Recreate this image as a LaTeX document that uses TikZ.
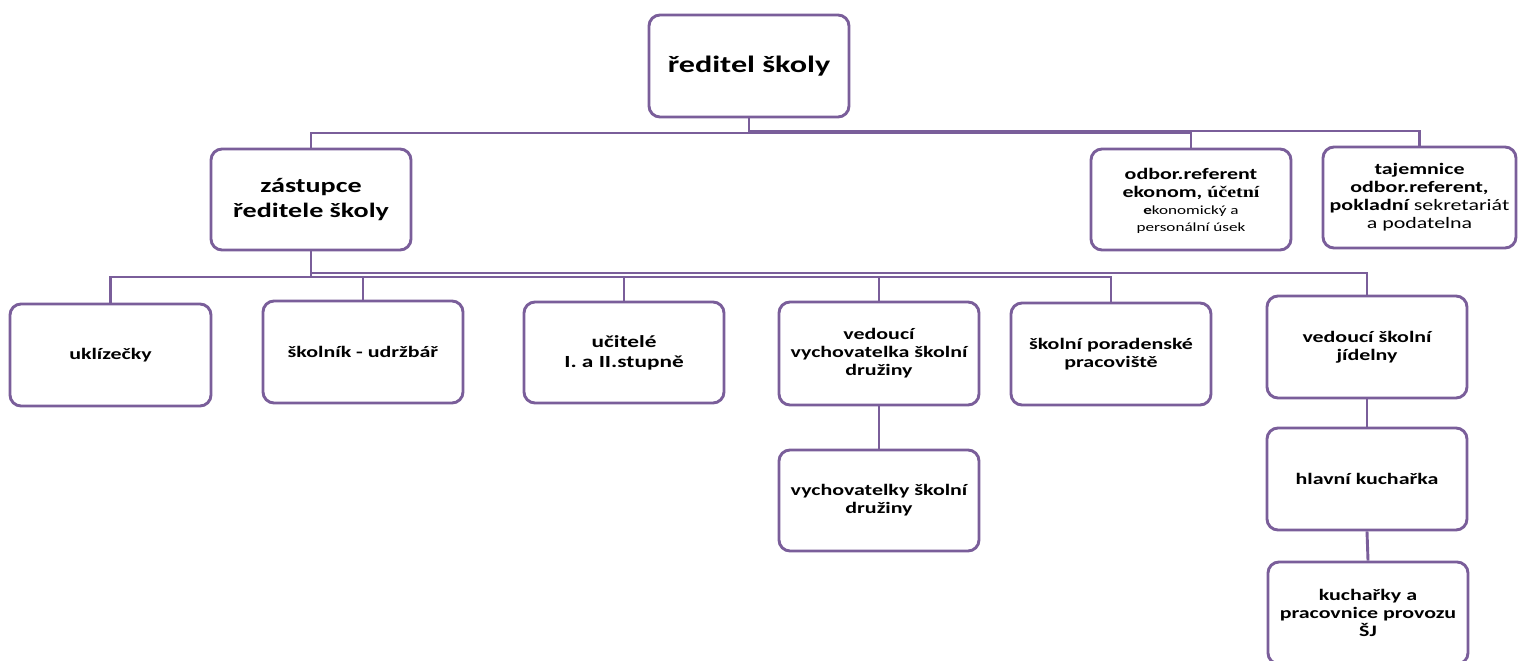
\documentclass[tikz,border=0pt]{standalone}
\usepackage{fontspec}
\setmainfont{Carlito}[FakeStretch=1.37]
\newfontfamily\serifbf{Liberation Serif}[FakeStretch=1.25]
\definecolor{frame}{RGB}{122,94,154}
\begin{document}
\begin{tikzpicture}[x=1pt,y=-1pt,
  box/.style={draw=frame,line width=2.9pt,rounded corners=11pt,fill=white,
    align=center,inner sep=2pt,font=\bfseries\fontsize{16}{18}\selectfont},
  conn/.style={draw=frame,line width=2.9pt}]
\useasboundingbox (0,0) rectangle (1518,661);
% boxes
\node[box,minimum width=200pt,minimum height=102pt,font=\bfseries\fontsize{23.5}{28}\selectfont] (root) at (749,66) {ředitel školy};
\node[box,minimum width=200pt,minimum height=101pt,font=\bfseries\fontsize{20.5}{25}\selectfont] (dep) at (311,199.5) {zástupce\\ředitele školy};
\node[box,minimum width=200pt,minimum height=101pt,text depth=0pt] (odb) at (1191,199.5)
  {odbor.referent\\ekonom, {\serifbf\bfseries účetní}\\[-1pt]
   {\normalfont\fontsize{12.5}{18}\selectfont\textbf{e}konomický a}\\[-1pt]
   {\normalfont\fontsize{12.5}{18}\selectfont personální úsek}};
\node[box,minimum width=193pt,minimum height=101pt] (taj) at (1419.5,197.5)
  {tajemnice\\odbor.referent,\\pokladní {\normalfont sekretariát}\\{\normalfont a podatelna}};
\node[box,minimum width=201pt,minimum height=102pt] (ukl) at (110.5,355) {uklízečky};
\node[box,minimum width=200pt,minimum height=102pt] (skol) at (363,352) {školník - udržbář};
\node[box,minimum width=200pt,minimum height=101pt,font=\bfseries\fontsize{17}{20}\selectfont] (uc) at (624,352.5) {učitelé\\I. a II.stupně};
\node[box,minimum width=200pt,minimum height=103pt] (vv) at (879,353.5) {vedoucí\\vychovatelka školní\\družiny};
\node[box,minimum width=200pt,minimum height=102pt] (por) at (1111,354) {školní poradenské\\pracoviště};
\node[box,minimum width=200pt,minimum height=102pt] (jid) at (1367,347) {vedoucí školní\\jídelny};
\node[box,minimum width=200pt,minimum height=101pt] (vych) at (879,500.5) {vychovatelky školní\\družiny};
\node[box,minimum width=200pt,minimum height=102pt] (hk) at (1367,479) {hlavní kuchařka};
\node[box,minimum width=200pt,minimum height=102pt] (kuch) at (1368,613) {kuchařky a\\pracovnice provozu\\ŠJ};
% top bus
\draw[conn] (root.south) -- (root.south |- 0,133);
\draw[conn] (dep.north) |- (odb.north |- 0,133) -- (odb.north);
\draw[conn] (root.south |- 0,131) -| (taj.north);
% second bus
\draw[conn] (dep.south) -- (dep.south |- 0,277);
\draw[conn] (ukl.north) |- (por.north |- 0,277) -- (por.north);
\draw[conn] (skol.north) -- (skol.north |- 0,277);
\draw[conn] (uc.north) -- (uc.north |- 0,277);
\draw[conn] (vv.north) -- (vv.north |- 0,277);
\draw[conn] (dep.south |- 0,273) -| (jid.north);
% chains
\draw[conn] (vv.south) -- (vych.north);
\draw[conn] (jid.south) -- (hk.north);
\draw[conn] (hk.south) -- (kuch.north);
\end{tikzpicture}
\end{document}
